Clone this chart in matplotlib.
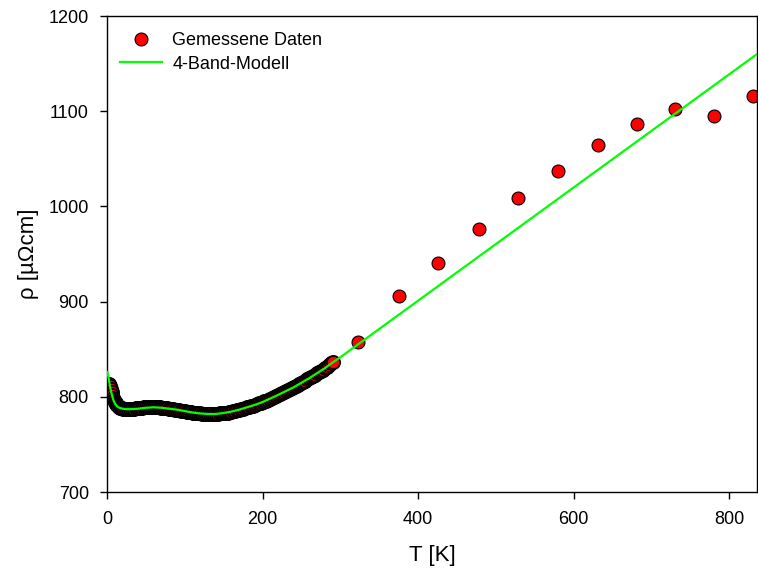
import matplotlib.pyplot as plt

plt.rcParams["font.family"] = ["Liberation Sans", "DejaVu Sans"]

# Messdaten, Tieftemperaturbereich (dicht gemessen)
t_low = [2, 3, 4, 5, 6, 7, 8, 9, 10, 11, 12, 13, 14, 15, 16, 17, 18, 19,
         20, 22.5, 25, 27.5, 30, 32.5, 35, 37.5, 40, 42.5, 45, 47.5, 50, 52.5,
         55, 57.5, 60, 62.5, 65, 67.5, 70, 72.5, 75, 77.5, 80, 82.5, 85, 87.5,
         90, 92.5, 95, 97.5, 100, 102.5, 105, 107.5, 110, 112.5, 115, 117.5,
         120, 122.5, 125, 127.5, 130, 132.5, 135, 137.5, 140, 142.5, 145, 147.5,
         150, 152.5, 155, 157.5, 160, 162.5, 165, 167.5, 170, 172.5, 175, 177.5,
         180, 182.5, 185, 187.5, 190, 192.5, 195, 197.5, 200, 202.5, 205, 207.5,
         210, 212.5, 215, 217.5, 220, 222.5, 225, 227.5, 230, 232.5, 235, 237.5,
         240, 242.5, 245, 247.5, 250, 252.5, 255, 257.5, 260, 262.5, 265, 267.5,
         270, 272.5, 275, 277.5, 280, 282.5, 285, 287.5, 290]
rho_low = [812, 813, 811, 808, 805, 802, 799, 797, 795, 793.5, 792, 791, 790,
           789.5, 789, 788.5, 788, 787.8,
           787.5, 787.2, 787, 787, 787, 787.2, 787.5, 787.8, 788, 788.3, 788.5,
           788.8, 789, 789, 789, 789, 789, 789, 789, 788.8, 788.5, 788.2, 788,
           787.8, 787.5, 787.2, 787, 786.5, 786, 785.8, 785.5, 785.2, 785, 784.5,
           784, 783.8, 783.5, 783.2, 783, 782.8, 782.5, 782.2, 782, 782, 782, 782,
           782, 782, 782, 782, 782.5, 782.8, 783, 783.2, 783.5, 784, 784.5, 785,
           785.5, 786, 786.5, 787, 787.5, 788.2, 789, 789.5, 790, 790.8, 791.5,
           792.2, 793, 793.8, 794.5, 795.2, 796, 797, 798, 799, 800, 801, 802,
           803, 804, 805, 806, 807, 808, 809, 810, 811, 812, 813.2, 814.5, 815.8,
           817, 818.2, 819.5, 820.8, 822, 823.2, 824.5, 825.8, 827, 828.5, 830,
           831.5, 833, 835, 837]

# Messdaten, Hochtemperaturbereich
t_high = [323, 375, 426, 478, 529, 580, 631, 681, 731, 781, 831]
rho_high = [858, 906, 941, 976, 1009, 1037, 1064, 1087, 1102, 1095, 1116]

# 4-Band-Modell
t_fit = [0.5, 2, 4, 6, 8, 10, 13, 16, 20, 25, 30, 40, 50, 60, 70, 80, 90, 100,
         110, 120, 130, 140, 150, 160, 170, 180, 190, 200, 220, 240, 260, 280,
         290, 300, 836]
rho_fit = [826, 820, 810, 803, 797, 793, 790, 788.5, 787.5, 787, 787, 787.5,
           788.5, 789, 788.5, 787.5, 786.5, 785, 783.5, 782.5, 782, 782, 783,
           784.5, 786.5, 789, 791.5, 794.5, 802, 810, 819.5, 830, 836, 841.5, 1160]

fig = plt.figure(figsize=(7.58, 5.76), dpi=100)
ax = fig.add_axes([0.1412, 0.1458, 0.8575, 0.8264])

ax.plot(t_low, rho_low, "o", color="red", markeredgecolor="black",
        markeredgewidth=1.3, markersize=9.5, zorder=2)
ax.plot(t_high, rho_high, "o", color="red", markeredgecolor="black",
        markeredgewidth=0.8, markersize=9.3, zorder=2, label="Gemessene Daten")
ax.plot(t_fit, rho_fit, color="#00ff00", linewidth=1.6, zorder=3,
        label="4-Band-Modell")

ax.set_xlim(0, 836)
ax.set_ylim(700, 1200)
ax.set_xticks([0, 200, 400, 600, 800])
ax.set_yticks([700, 800, 900, 1000, 1100, 1200])
ax.tick_params(direction="out", length=5, width=1, labelsize=13,
               top=False, right=False)
ax.tick_params(axis="x", pad=9)
ax.tick_params(axis="y", pad=8)
for s in ax.spines.values():
    s.set_linewidth(1)

ax.set_xlabel("T [K]", fontsize=16, labelpad=12)
ax.set_ylabel("ρ [µΩcm]", fontsize=16, labelpad=7)

ax.legend(loc="upper left", frameon=False, fontsize=13, handlelength=2.3,
          handletextpad=0.6, labelspacing=0.35, borderaxespad=0.5,
          bbox_to_anchor=(-0.005, 1.0))

fig.savefig("out.png", dpi=100)
